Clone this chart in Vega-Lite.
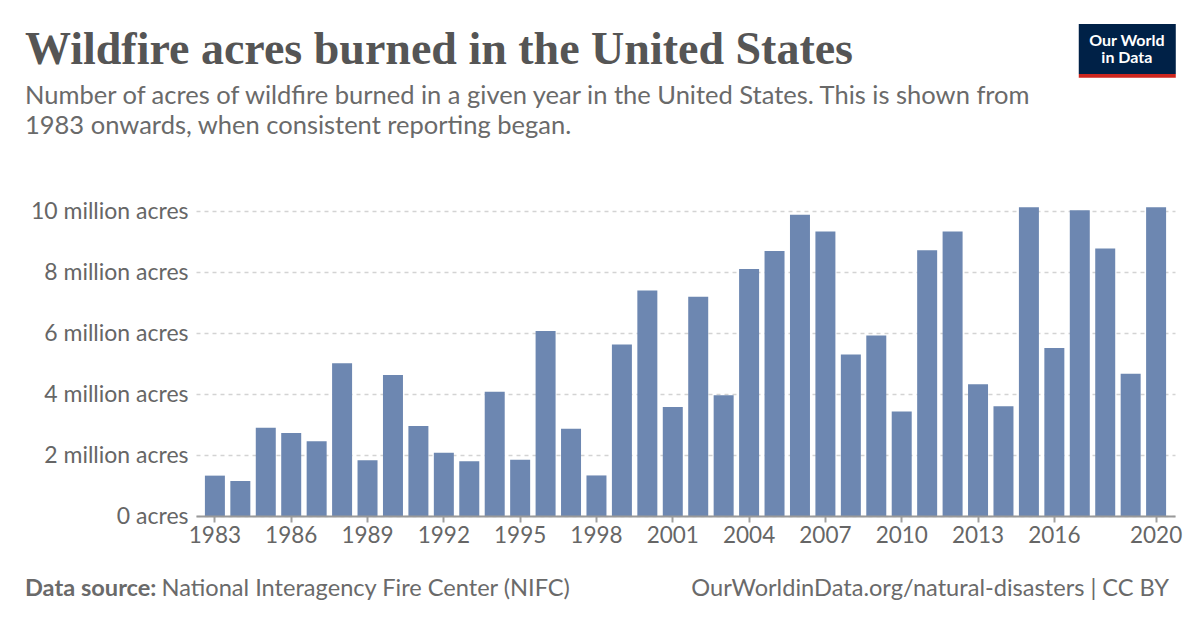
{
  "$schema": "https://vega.github.io/schema/vega-lite/v6.json",
  "width": 979,
  "height": 305,
  "autosize": {"type": "none"},
  "padding": {"left": 196, "top": 211, "right": 25, "bottom": 112},
  "background": "white",
  "config": {"view": {"stroke": null}, "font": "Lato"},
  "title": {
    "text": "Wildfire acres burned in the United States",
    "subtitle": ["Number of acres of wildfire burned in a given year in the United States. This is shown from", "1983 onwards, when consistent reporting began."],
    "anchor": "start",
    "frame": "group",
    "orient": "top",
    "dx": -171,
    "offset": -116,
    "font": "Liberation Serif",
    "fontSize": 46,
    "fontWeight": "bold",
    "color": "#555555",
    "subtitleFont": "Lato",
    "subtitleFontSize": 25.5,
    "subtitleColor": "#6a6a6a",
    "subtitlePadding": 10,
    "subtitleLineHeight": 29.5
  },
  "layer": [
    {
      "data": {
        "values": [
          {"year": 1983, "acres": 1323666},
          {"year": 1984, "acres": 1148409},
          {"year": 1985, "acres": 2896147},
          {"year": 1986, "acres": 2719162},
          {"year": 1987, "acres": 2447296},
          {"year": 1988, "acres": 5009290},
          {"year": 1989, "acres": 1827310},
          {"year": 1990, "acres": 4621621},
          {"year": 1991, "acres": 2953578},
          {"year": 1992, "acres": 2069929},
          {"year": 1993, "acres": 1797574},
          {"year": 1994, "acres": 4073579},
          {"year": 1995, "acres": 1840546},
          {"year": 1996, "acres": 6065998},
          {"year": 1997, "acres": 2856959},
          {"year": 1998, "acres": 1329704},
          {"year": 1999, "acres": 5626093},
          {"year": 2000, "acres": 7393493},
          {"year": 2001, "acres": 3570911},
          {"year": 2002, "acres": 7184712},
          {"year": 2003, "acres": 3960842},
          {"year": 2004, "acres": 8097880},
          {"year": 2005, "acres": 8689389},
          {"year": 2006, "acres": 9873745},
          {"year": 2007, "acres": 9328045},
          {"year": 2008, "acres": 5292468},
          {"year": 2009, "acres": 5921786},
          {"year": 2010, "acres": 3422724},
          {"year": 2011, "acres": 8711367},
          {"year": 2012, "acres": 9326238},
          {"year": 2013, "acres": 4319546},
          {"year": 2014, "acres": 3595613},
          {"year": 2015, "acres": 10125149},
          {"year": 2016, "acres": 5509995},
          {"year": 2017, "acres": 10026086},
          {"year": 2018, "acres": 8767492},
          {"year": 2019, "acres": 4664364},
          {"year": 2020, "acres": 10122336}
        ]
      },
      "mark": {"type": "bar", "color": "#6d87b1"},
      "encoding": {
        "x": {
          "field": "year",
          "type": "ordinal",
          "scale": {"paddingInner": 0.214, "paddingOuter": 0.35},
          "axis": {
            "values": [1983, 1986, 1989, 1992, 1995, 1998, 2001, 2004, 2007, 2010, 2013, 2016, 2020],
            "title": null,
            "labelAngle": 0,
            "labelFont": "Lato",
            "labelFontSize": 22.5,
            "labelColor": "#666666",
            "labelPadding": 2,
            "tickSize": 6,
            "tickWidth": 2,
            "tickColor": "#a0a0a0",
            "domainColor": "#999999",
            "domainWidth": 2,
            "grid": false,
            "zindex": 1
          }
        },
        "y": {
          "field": "acres",
          "type": "quantitative",
          "scale": {"domain": [0, 10000000], "nice": false},
          "axis": {
            "values": [0, 2000000, 4000000, 6000000, 8000000, 10000000],
            "labelExpr": "datum.value == 0 ? '0 acres' : format(datum.value / 1000000, 'd') + ' million acres'",
            "title": null,
            "domain": false,
            "ticks": false,
            "labelPadding": 8,
            "labelFont": "Lato",
            "labelFontSize": 23,
            "labelColor": "#666666",
            "grid": true,
            "gridDash": [4, 4],
            "gridColor": "#d3d3d3",
            "gridWidth": 1.5
          }
        }
      }
    },
    {
      "layer": [
        {
          "data": {"values": [{}]},
          "mark": {"type": "rect", "color": "#002147"},
          "encoding": {
            "x": {"datum": 0.9017, "type": "quantitative", "scale": {"domain": [0, 1], "nice": false}, "axis": null},
            "x2": {"datum": 1.0008},
            "y": {"datum": 1.6131, "type": "quantitative", "scale": {"domain": [0, 1], "nice": false}, "axis": null},
            "y2": {"datum": 1.4492}
          }
        },
        {
          "data": {"values": [{}]},
          "mark": {"type": "rect", "color": "#ce261e"},
          "encoding": {
            "x": {"datum": 0.9017, "type": "quantitative"},
            "x2": {"datum": 1.0008},
            "y": {"datum": 1.4492, "type": "quantitative"},
            "y2": {"datum": 1.4370}
          }
        },
        {
          "data": {"values": [{}]},
          "mark": {"type": "text", "text": ["Our World", "in Data"], "lineHeight": 17.5, "font": "Lato", "fontWeight": "bold", "fontSize": 16, "color": "white", "align": "center", "baseline": "alphabetic"},
          "encoding": {
            "x": {"datum": 0.9508, "type": "quantitative"},
            "y": {"datum": 1.541, "type": "quantitative"}
          }
        },
        {
          "data": {"values": [{}]},
          "mark": {"type": "text", "text": "Data source:", "font": "Lato", "fontWeight": "bold", "fontSize": 23.6, "color": "#6a6a6a", "align": "left", "baseline": "alphabetic"},
          "encoding": {
            "x": {"datum": -0.1747, "type": "quantitative"},
            "y": {"datum": -0.2623, "type": "quantitative"}
          }
        },
        {
          "data": {"values": [{}]},
          "mark": {"type": "text", "text": "National Interagency Fire Center (NIFC)", "font": "Lato", "fontSize": 23.6, "color": "#6a6a6a", "align": "left", "baseline": "alphabetic"},
          "encoding": {
            "x": {"datum": -0.0352, "type": "quantitative"},
            "y": {"datum": -0.2623, "type": "quantitative"}
          }
        },
        {
          "data": {"values": [{}]},
          "mark": {"type": "text", "text": "OurWorldinData.org/natural-disasters | CC BY", "font": "Lato", "fontSize": 23.6, "color": "#6a6a6a", "align": "right", "baseline": "alphabetic"},
          "encoding": {
            "x": {"datum": 0.9939, "type": "quantitative"},
            "y": {"datum": -0.2623, "type": "quantitative"}
          }
        }
      ]
    }
  ],
  "resolve": {"scale": {"x": "independent", "y": "independent"}}
}
